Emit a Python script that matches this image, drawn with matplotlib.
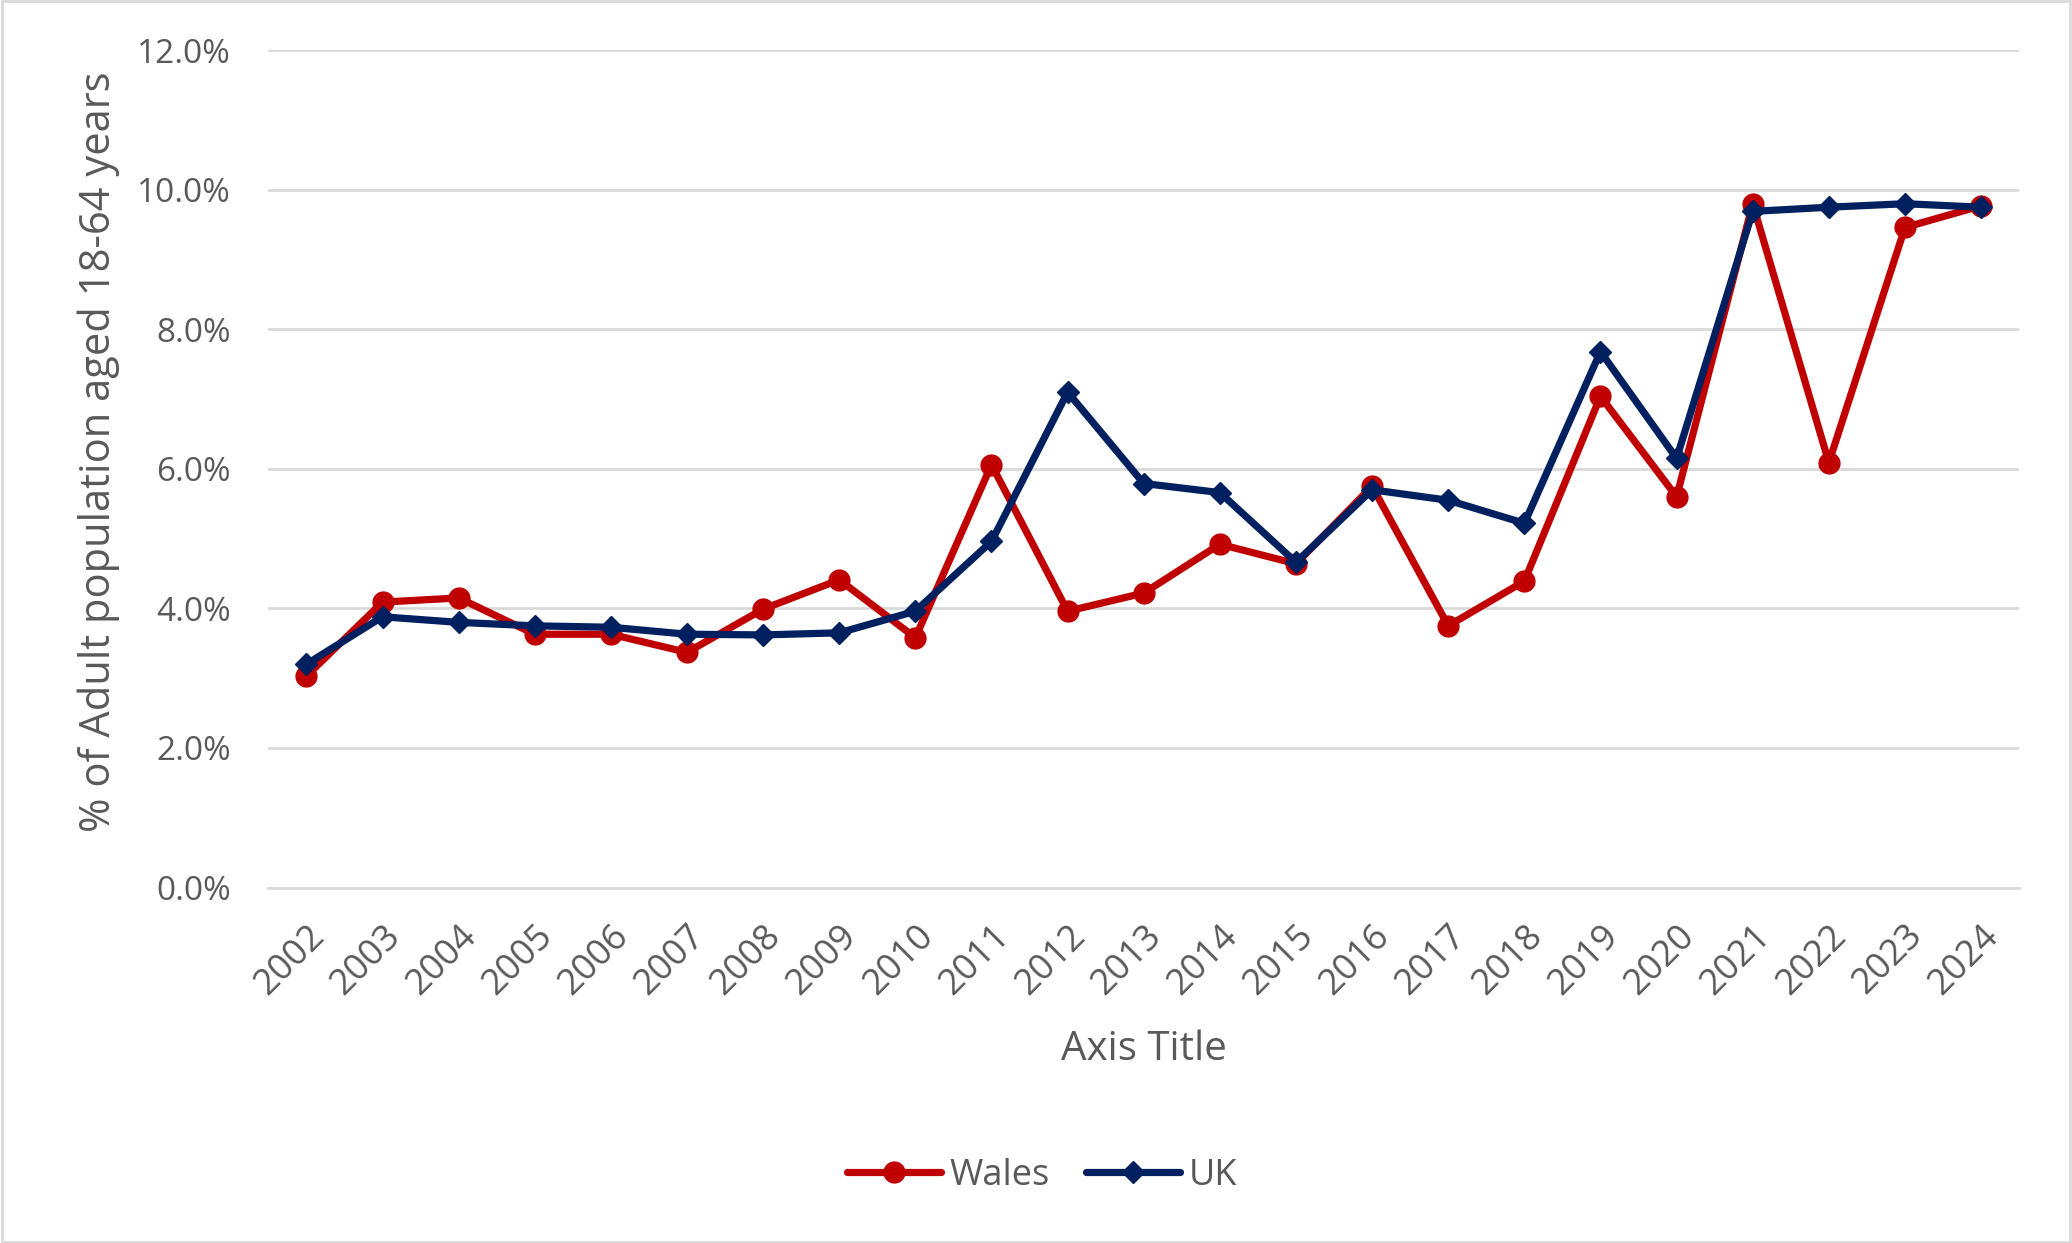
import matplotlib
matplotlib.use("Agg")
import matplotlib.pyplot as plt
from matplotlib.ticker import FuncFormatter
from matplotlib.patches import Rectangle

years = [str(y) for y in range(2002, 2025)]
wales = [3.03, 4.09, 4.15, 3.63, 3.63, 3.37, 3.99, 4.41, 3.58, 6.06, 3.96, 4.22,
         4.92, 4.64, 5.75, 3.75, 4.39, 7.04, 5.60, 9.80, 6.09, 9.46, 9.77]
uk = [3.20, 3.88, 3.80, 3.75, 3.73, 3.63, 3.62, 3.65, 3.96, 4.96, 7.10, 5.79,
      5.66, 4.66, 5.70, 5.55, 5.22, 7.68, 6.15, 9.69, 9.75, 9.80, 9.75]
yticks = [0, 2, 4, 6, 8, 10, 12]

plt.rcParams['font.family'] = ['Open Sans', 'DejaVu Sans']
txt = '#595959'

fig = plt.figure(figsize=(20.72, 12.43), dpi=100)
ax = fig.add_axes([0.1295, 0.286, 0.845, 0.6736])

x = list(range(len(years)))
ax.plot(x, wales, color='#C00000', lw=5.2, marker='o', ms=15, label='Wales',
        solid_joinstyle='round', solid_capstyle='round', zorder=3)
ax.plot(x, uk, color='#002060', lw=5.2, marker='D', ms=11, label='UK',
        solid_joinstyle='round', solid_capstyle='round', zorder=4)

ax.set_xlim(-0.5, len(years) - 0.5)
ax.set_ylim(0, 12)
ax.set_yticks(yticks)
ax.yaxis.set_major_formatter(FuncFormatter(lambda v, p: f"{v:.1f}%"))
ax.set_xticks(x)
ax.set_xticklabels(years, rotation=45, ha='right', rotation_mode='anchor')
ax.grid(axis='y', color='#D9D9D9', lw=2)
ax.set_axisbelow(True)
for s in ['top', 'right', 'left']:
    ax.spines[s].set_visible(False)
ax.spines['bottom'].set_color('#D9D9D9')
ax.spines['bottom'].set_linewidth(2)
ax.tick_params(axis='both', length=0, colors=txt)
ax.tick_params(axis='y', pad=27, labelsize=24)
ax.tick_params(axis='x', pad=22, labelsize=26)

ax.set_ylabel('% of Adult population aged 18-64 years', fontsize=30, color=txt, labelpad=12)
ax.yaxis.label.set_y(0.52)
ax.set_xlabel('Axis Title', fontsize=29, color=txt, labelpad=20)

leg = fig.legend(loc='center', bbox_to_anchor=(0.503, 0.054), ncol=2, frameon=False,
                 fontsize=26, labelcolor=txt, handlelength=2.6, columnspacing=1.0,
                 handletextpad=0.25)

fig.patches.append(Rectangle((0.001, 0.001), 0.998, 0.998, transform=fig.transFigure,
                             fill=False, edgecolor='#D9D9D9', lw=2))

fig.savefig('out.png', dpi=100, facecolor='white')
